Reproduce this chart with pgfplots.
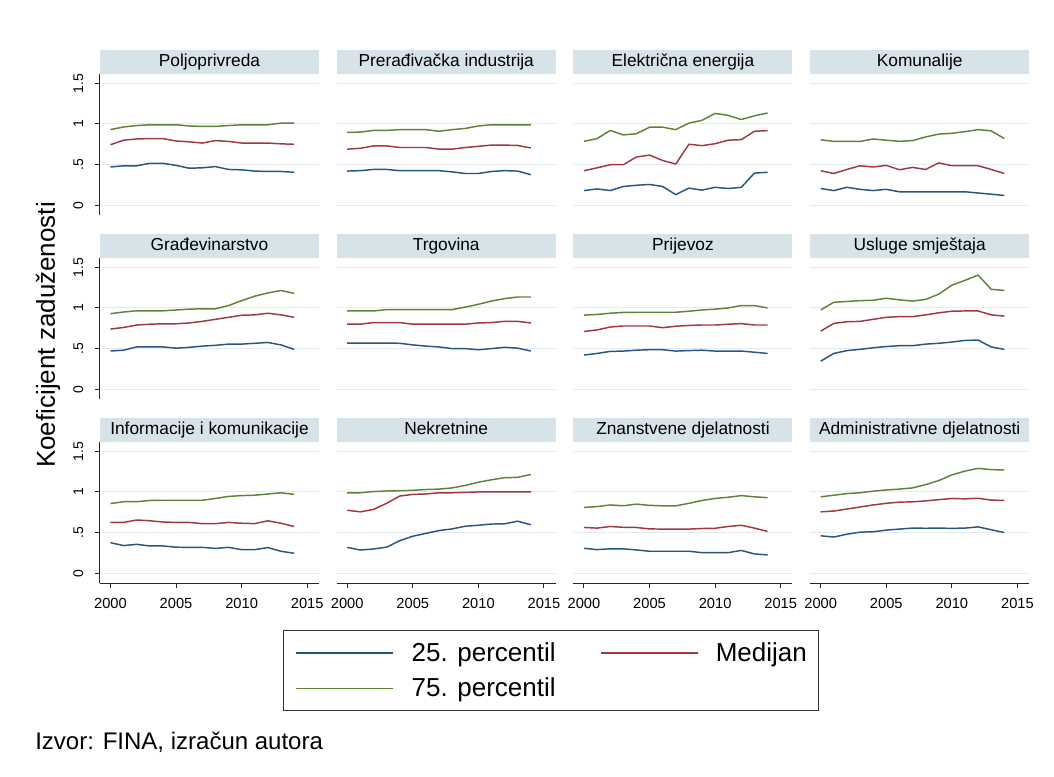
\documentclass[border=0pt]{standalone}
\usepackage{fontspec}
\setmainfont{Liberation Sans}
\usepackage{pgfplots}
\usepackage{pgfplotstable}
\pgfplotsset{compat=1.18}
\usepgfplotslibrary{groupplots}

\definecolor{c25}{RGB}{40,85,130}
\definecolor{cmed}{RGB}{160,55,65}
\definecolor{c75}{RGB}{95,130,55}
\definecolor{stripcol}{RGB}{214,228,234}
\definecolor{gridcol}{RGB}{228,234,237}

% columns: year, 25th percentile, median, 75th percentile
\pgfplotstableread{
y p25 med p75
2000 0.47 0.745 0.93
2001 0.485 0.80 0.963
2002 0.485 0.815 0.98
2003 0.515 0.82 0.99
2004 0.515 0.82 0.99
2005 0.49 0.79 0.99
2006 0.455 0.78 0.975
2007 0.46 0.765 0.97
2008 0.475 0.795 0.97
2009 0.44 0.785 0.98
2010 0.435 0.765 0.99
2011 0.42 0.765 0.99
2012 0.415 0.765 0.99
2013 0.415 0.755 1.01
2014 0.405 0.75 1.01
}\tPolj
\pgfplotstableread{
y p25 med p75
2000 0.42 0.69 0.895
2001 0.425 0.70 0.90
2002 0.44 0.73 0.92
2003 0.44 0.73 0.92
2004 0.425 0.71 0.93
2005 0.425 0.71 0.93
2006 0.425 0.71 0.93
2007 0.425 0.69 0.91
2008 0.41 0.69 0.93
2009 0.39 0.71 0.945
2010 0.39 0.725 0.975
2011 0.415 0.74 0.99
2012 0.425 0.74 0.99
2013 0.42 0.735 0.99
2014 0.375 0.705 0.99
}\tPrer
\pgfplotstableread{
y p25 med p75
2000 0.18 0.424 0.786
2001 0.20 0.46 0.82
2002 0.18 0.498 0.92
2003 0.23 0.498 0.865
2004 0.245 0.593 0.88
2005 0.255 0.617 0.96
2006 0.23 0.55 0.96
2007 0.13 0.506 0.93
2008 0.21 0.75 1.01
2009 0.185 0.733 1.045
2010 0.22 0.757 1.13
2011 0.205 0.80 1.105
2012 0.22 0.807 1.055
2013 0.395 0.91 1.10
2014 0.405 0.918 1.135
}\tElek
\pgfplotstableread{
y p25 med p75
2000 0.205 0.424 0.805
2001 0.18 0.39 0.785
2002 0.22 0.44 0.785
2003 0.195 0.485 0.785
2004 0.18 0.47 0.815
2005 0.195 0.49 0.80
2006 0.165 0.436 0.786
2007 0.165 0.465 0.795
2008 0.165 0.44 0.84
2009 0.165 0.52 0.875
2010 0.165 0.486 0.885
2011 0.165 0.486 0.905
2012 0.15 0.486 0.93
2013 0.135 0.44 0.915
2014 0.12 0.39 0.82
}\tKomu
\pgfplotstableread{
y p25 med p75
2000 0.47 0.74 0.93
2001 0.48 0.76 0.95
2002 0.52 0.79 0.965
2003 0.52 0.80 0.965
2004 0.52 0.805 0.965
2005 0.505 0.805 0.975
2006 0.515 0.815 0.985
2007 0.53 0.835 0.99
2008 0.54 0.86 0.99
2009 0.555 0.885 1.03
2010 0.555 0.91 1.09
2011 0.565 0.915 1.145
2012 0.575 0.935 1.185
2013 0.545 0.915 1.215
2014 0.49 0.885 1.18
}\tGrad
\pgfplotstableread{
y p25 med p75
2000 0.568 0.80 0.963
2001 0.568 0.80 0.963
2002 0.568 0.82 0.963
2003 0.568 0.82 0.98
2004 0.565 0.82 0.98
2005 0.545 0.80 0.98
2006 0.53 0.80 0.98
2007 0.52 0.80 0.98
2008 0.50 0.80 0.98
2009 0.50 0.80 1.01
2010 0.485 0.815 1.045
2011 0.50 0.82 1.085
2012 0.515 0.835 1.115
2013 0.505 0.835 1.135
2014 0.47 0.815 1.135
}\tTrgo
\pgfplotstableread{
y p25 med p75
2000 0.42 0.71 0.912
2001 0.44 0.73 0.92
2002 0.465 0.765 0.935
2003 0.469 0.778 0.945
2004 0.48 0.778 0.947
2005 0.486 0.778 0.947
2006 0.486 0.757 0.947
2007 0.469 0.775 0.947
2008 0.475 0.785 0.96
2009 0.48 0.79 0.975
2010 0.469 0.79 0.985
2011 0.469 0.80 1.00
2012 0.469 0.807 1.03
2013 0.455 0.79 1.03
2014 0.44 0.79 1.00
}\tPrij
\pgfplotstableread{
y p25 med p75
2000 0.345 0.715 0.975
2001 0.44 0.81 1.07
2002 0.475 0.83 1.08
2003 0.49 0.835 1.09
2004 0.51 0.86 1.095
2005 0.525 0.885 1.12
2006 0.535 0.893 1.10
2007 0.535 0.893 1.085
2008 0.555 0.915 1.105
2009 0.565 0.94 1.17
2010 0.58 0.96 1.28
2011 0.60 0.963 1.34
2012 0.605 0.963 1.405
2013 0.52 0.915 1.23
2014 0.49 0.90 1.215
}\tUslu
\pgfplotstableread{
y p25 med p75
2000 0.375 0.625 0.857
2001 0.34 0.625 0.88
2002 0.355 0.655 0.88
2003 0.335 0.645 0.895
2004 0.335 0.63 0.898
2005 0.32 0.625 0.898
2006 0.318 0.625 0.898
2007 0.318 0.61 0.898
2008 0.305 0.61 0.92
2009 0.318 0.625 0.945
2010 0.29 0.615 0.955
2011 0.29 0.61 0.96
2012 0.315 0.645 0.975
2013 0.27 0.615 0.99
2014 0.245 0.575 0.97
}\tInfo
\pgfplotstableread{
y p25 med p75
2000 0.318 0.775 0.99
2001 0.285 0.755 0.99
2002 0.298 0.785 1.005
2003 0.32 0.86 1.012
2004 0.40 0.95 1.015
2005 0.455 0.97 1.02
2006 0.49 0.975 1.03
2007 0.525 0.99 1.035
2008 0.545 0.99 1.05
2009 0.578 0.995 1.08
2010 0.59 1.0 1.12
2011 0.605 1.0 1.15
2012 0.608 1.0 1.175
2013 0.64 1.0 1.18
2014 0.596 1.0 1.216
}\tNekr
\pgfplotstableread{
y p25 med p75
2000 0.306 0.563 0.81
2001 0.29 0.555 0.82
2002 0.30 0.575 0.84
2003 0.30 0.565 0.83
2004 0.286 0.563 0.85
2005 0.27 0.545 0.835
2006 0.27 0.543 0.829
2007 0.27 0.543 0.829
2008 0.27 0.543 0.86
2009 0.253 0.55 0.895
2010 0.253 0.553 0.92
2011 0.253 0.575 0.935
2012 0.28 0.59 0.955
2013 0.237 0.555 0.94
2014 0.225 0.514 0.93
}\tZnan
\pgfplotstableread{
y p25 med p75
2000 0.46 0.755 0.94
2001 0.445 0.765 0.96
2002 0.48 0.79 0.98
2003 0.505 0.815 0.99
2004 0.51 0.84 1.01
2005 0.53 0.86 1.025
2006 0.543 0.875 1.035
2007 0.555 0.878 1.05
2008 0.553 0.89 1.09
2009 0.555 0.905 1.14
2010 0.552 0.92 1.21
2011 0.555 0.915 1.257
2012 0.57 0.922 1.29
2013 0.535 0.90 1.275
2014 0.50 0.895 1.27
}\tAdmi

\newcommand{\trio}[1]{%
  \addplot[c25] table[x=y, y=p25] {#1};
  \addplot[cmed] table[x=y, y=med] {#1};
  \addplot[c75] table[x=y, y=p75] {#1};
}

\begin{document}
\begin{tikzpicture}
\begin{groupplot}[
    group style={group size=4 by 3, group name=G,
        horizontal sep=13.3pt, vertical sep=32.25pt,
        xticklabels at=edge bottom, yticklabels at=edge left},
    scale only axis,
    width=164.25pt, height=105.75pt,
    xmin=1999.2, xmax=2015.9,
    ymin=-0.121, ymax=1.615,
    axis lines=left,
    axis line style={-, black!85, line width=0.75pt},
    xtick={2000,2005,2010,2015},
    xticklabels={2000,2005,2010,2015},
    ytick={0,0.5,1,1.5},
    yticklabels={0,.5,1,1.5},
    tick align=outside,
    major tick length=3.6pt,
    tick style={black!85, line width=0.75pt},
    ymajorgrids,
    major grid style={gridcol, line width=0.8pt},
    xticklabel style={font=\fontsize{11}{13}\selectfont},
    yticklabel style={font=\fontsize{10.5}{12}\selectfont, xshift=-5.5pt, rotate=90, anchor=south},
    xticklabel shift=4.5pt,
    every axis plot/.append style={line width=1.1pt, line join=round},
    every axis title/.style={at={(0.5,1)}, anchor=south, fill=stripcol,
        minimum width=164.25pt, minimum height=18pt, inner sep=0pt,
        text height=9.6pt, text depth=2.9pt,
        font=\fontsize{13}{15}\selectfont},
    noxaxis/.style={x axis line style={draw=none}, xtick style={draw=none}},
    noyaxis/.style={y axis line style={draw=none}, ytick style={draw=none}},
]
\nextgroupplot[title={Poljoprivreda}, noxaxis]
\trio{\tPolj}
\nextgroupplot[title={Prerađivačka industrija}, noxaxis, noyaxis]
\trio{\tPrer}
\nextgroupplot[title={Električna energija}, noxaxis, noyaxis]
\trio{\tElek}
\nextgroupplot[title={Komunalije}, noxaxis, noyaxis]
\trio{\tKomu}

\nextgroupplot[title={Građevinarstvo}, noxaxis]
\trio{\tGrad}
\nextgroupplot[title={Trgovina}, noxaxis, noyaxis]
\trio{\tTrgo}
\nextgroupplot[title={Prijevoz}, noxaxis, noyaxis]
\trio{\tPrij}
\nextgroupplot[title={Usluge smještaja}, noxaxis, noyaxis]
\trio{\tUslu}

\nextgroupplot[title={Informacije i komunikacije},
    legend columns=2,
    legend style={at={(0.836,-0.333)}, anchor=north west,
        draw=black!80, line width=0.75pt,
        font=\fontsize{19.5}{22}\selectfont,
        inner xsep=9pt, inner ysep=9pt,
        row sep=11pt, column sep=13pt,
        /tikz/every even column/.append style={column sep=33pt},
        nodes={inner sep=0pt}},
    legend cell align=left,
    legend image code/.code={\draw[#1, line width=1.3pt] (0pt,0pt) -- (72.75pt,0pt);},
]
\trio{\tInfo}
\legend{25. percentil, Medijan, 75. percentil}
\nextgroupplot[title={Nekretnine}, noyaxis]
\trio{\tNekr}
\nextgroupplot[title={Znanstvene djelatnosti}, noyaxis]
\trio{\tZnan}
\nextgroupplot[title={Administrativne djelatnosti}, noyaxis]
\trio{\tAdmi}
\end{groupplot}

\node[rotate=90, font=\fontsize{19.5}{22}\selectfont]
    at ([xshift=-39pt, yshift=-195.75pt]G c1r1.north west) {Koeficijent zaduženosti};
\node[anchor=west, inner sep=0pt, font=\fontsize{18}{20}\selectfont]
    at ([xshift=-48.75pt, yshift=-501pt]G c1r1.north west) {Izvor: FINA, izračun autora};

\pgfresetboundingbox
\path[use as bounding box] ([xshift=-75pt, yshift=55.5pt]G c1r1.north west)
    rectangle ([xshift=715.5pt, yshift=-526.5pt]G c1r1.north west);
\end{tikzpicture}
\end{document}
